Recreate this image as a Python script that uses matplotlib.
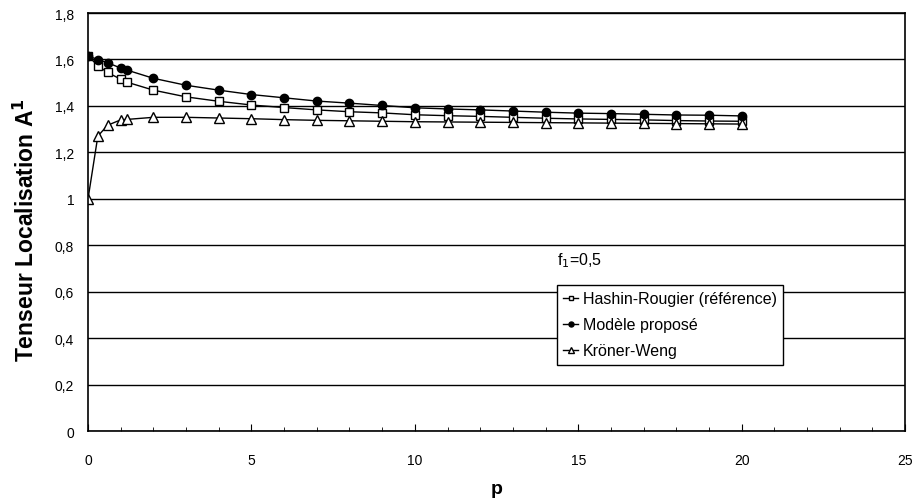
import matplotlib.pyplot as plt
from matplotlib.ticker import MultipleLocator, FuncFormatter

plt.rcParams['font.family'] = ['Liberation Sans', 'DejaVu Sans']

# Valeurs de p
p = [0, 0.3, 0.6, 1, 1.2, 2, 3, 4, 5, 6, 7, 8, 9, 10,
     11, 12, 13, 14, 15, 16, 17, 18, 19, 20]

# Hashin-Rougier (référence)
hashin = [1.616, 1.573, 1.544, 1.515, 1.502, 1.468, 1.439, 1.420, 1.404, 1.393,
          1.383, 1.375, 1.370, 1.362, 1.358, 1.355, 1.351, 1.347, 1.344, 1.342,
          1.340, 1.337, 1.335, 1.334]

# Modèle proposé
modele = [1.616, 1.599, 1.586, 1.563, 1.554, 1.519, 1.489, 1.468, 1.449, 1.435,
          1.421, 1.412, 1.402, 1.392, 1.387, 1.383, 1.378, 1.373, 1.369, 1.367,
          1.364, 1.361, 1.360, 1.357]

# Kröner-Weng
kroner = [1.0, 1.270, 1.317, 1.340, 1.342, 1.351, 1.351, 1.348, 1.345, 1.341,
          1.338, 1.336, 1.334, 1.332, 1.331, 1.330, 1.329, 1.328, 1.327, 1.326,
          1.325, 1.324, 1.323, 1.322]


def virgule(v, pos):
    # format décimal à la française, sans ",0" pour les entiers
    if abs(v - round(v)) < 1e-9:
        return f"{int(round(v))}"
    return f"{v:.1f}".replace('.', ',')


fig = plt.figure(figsize=(9.17, 5.02), dpi=100)
ax = fig.add_axes([0.096, 0.1394, 0.891, 0.8326])

ax.plot(p, hashin, 'k-', marker='s', markersize=6, markerfacecolor='white',
        markeredgecolor='black', markeredgewidth=1, linewidth=1,
        label='Hashin-Rougier (référence)')
ax.plot(p, modele, 'k-', marker='o', markersize=6, markerfacecolor='black',
        linewidth=1, label='Modèle proposé')
ax.plot(p, kroner, 'k-', marker='^', markersize=6.5, markerfacecolor='white',
        markeredgecolor='black', markeredgewidth=1, linewidth=1,
        label='Kröner-Weng')

ax.set_xlim(0, 25)
ax.set_ylim(0, 1.8)
ax.xaxis.set_major_locator(MultipleLocator(5))
ax.xaxis.set_minor_locator(MultipleLocator(1))
ax.yaxis.set_major_locator(MultipleLocator(0.2))
ax.yaxis.set_major_formatter(FuncFormatter(virgule))

ax.tick_params(axis='x', which='major', direction='in', length=5, labelsize=10, pad=16)
ax.tick_params(axis='x', which='minor', direction='in', length=3)
ax.tick_params(axis='y', which='major', length=0, labelsize=10, pad=10)

ax.grid(True, axis='y', color='black', linewidth=1)
for s in ax.spines.values():
    s.set_linewidth(1.2)

ax.set_xlabel('p', fontsize=14, fontweight='bold', labelpad=9)
ax.set_ylabel('Tenseur Localisation A$^\\mathbf{1}$', fontsize=16.5, fontweight='bold')
ax.yaxis.set_label_coords(-0.06, 0.483)

ax.text(14.36, 0.736, 'f$_1$=0,5', fontsize=11.5, va='center')

leg = ax.legend(loc='upper left', bbox_to_anchor=(0.574, 0.35), fontsize=11.5,
                frameon=True, fancybox=False, edgecolor='black', framealpha=1,
                borderpad=0.4, labelspacing=0.7, handlelength=0.9, handletextpad=0.3,
                borderaxespad=0, markerscale=0.6)
leg.get_frame().set_linewidth(1)

fig.savefig('out.png', dpi=100)
